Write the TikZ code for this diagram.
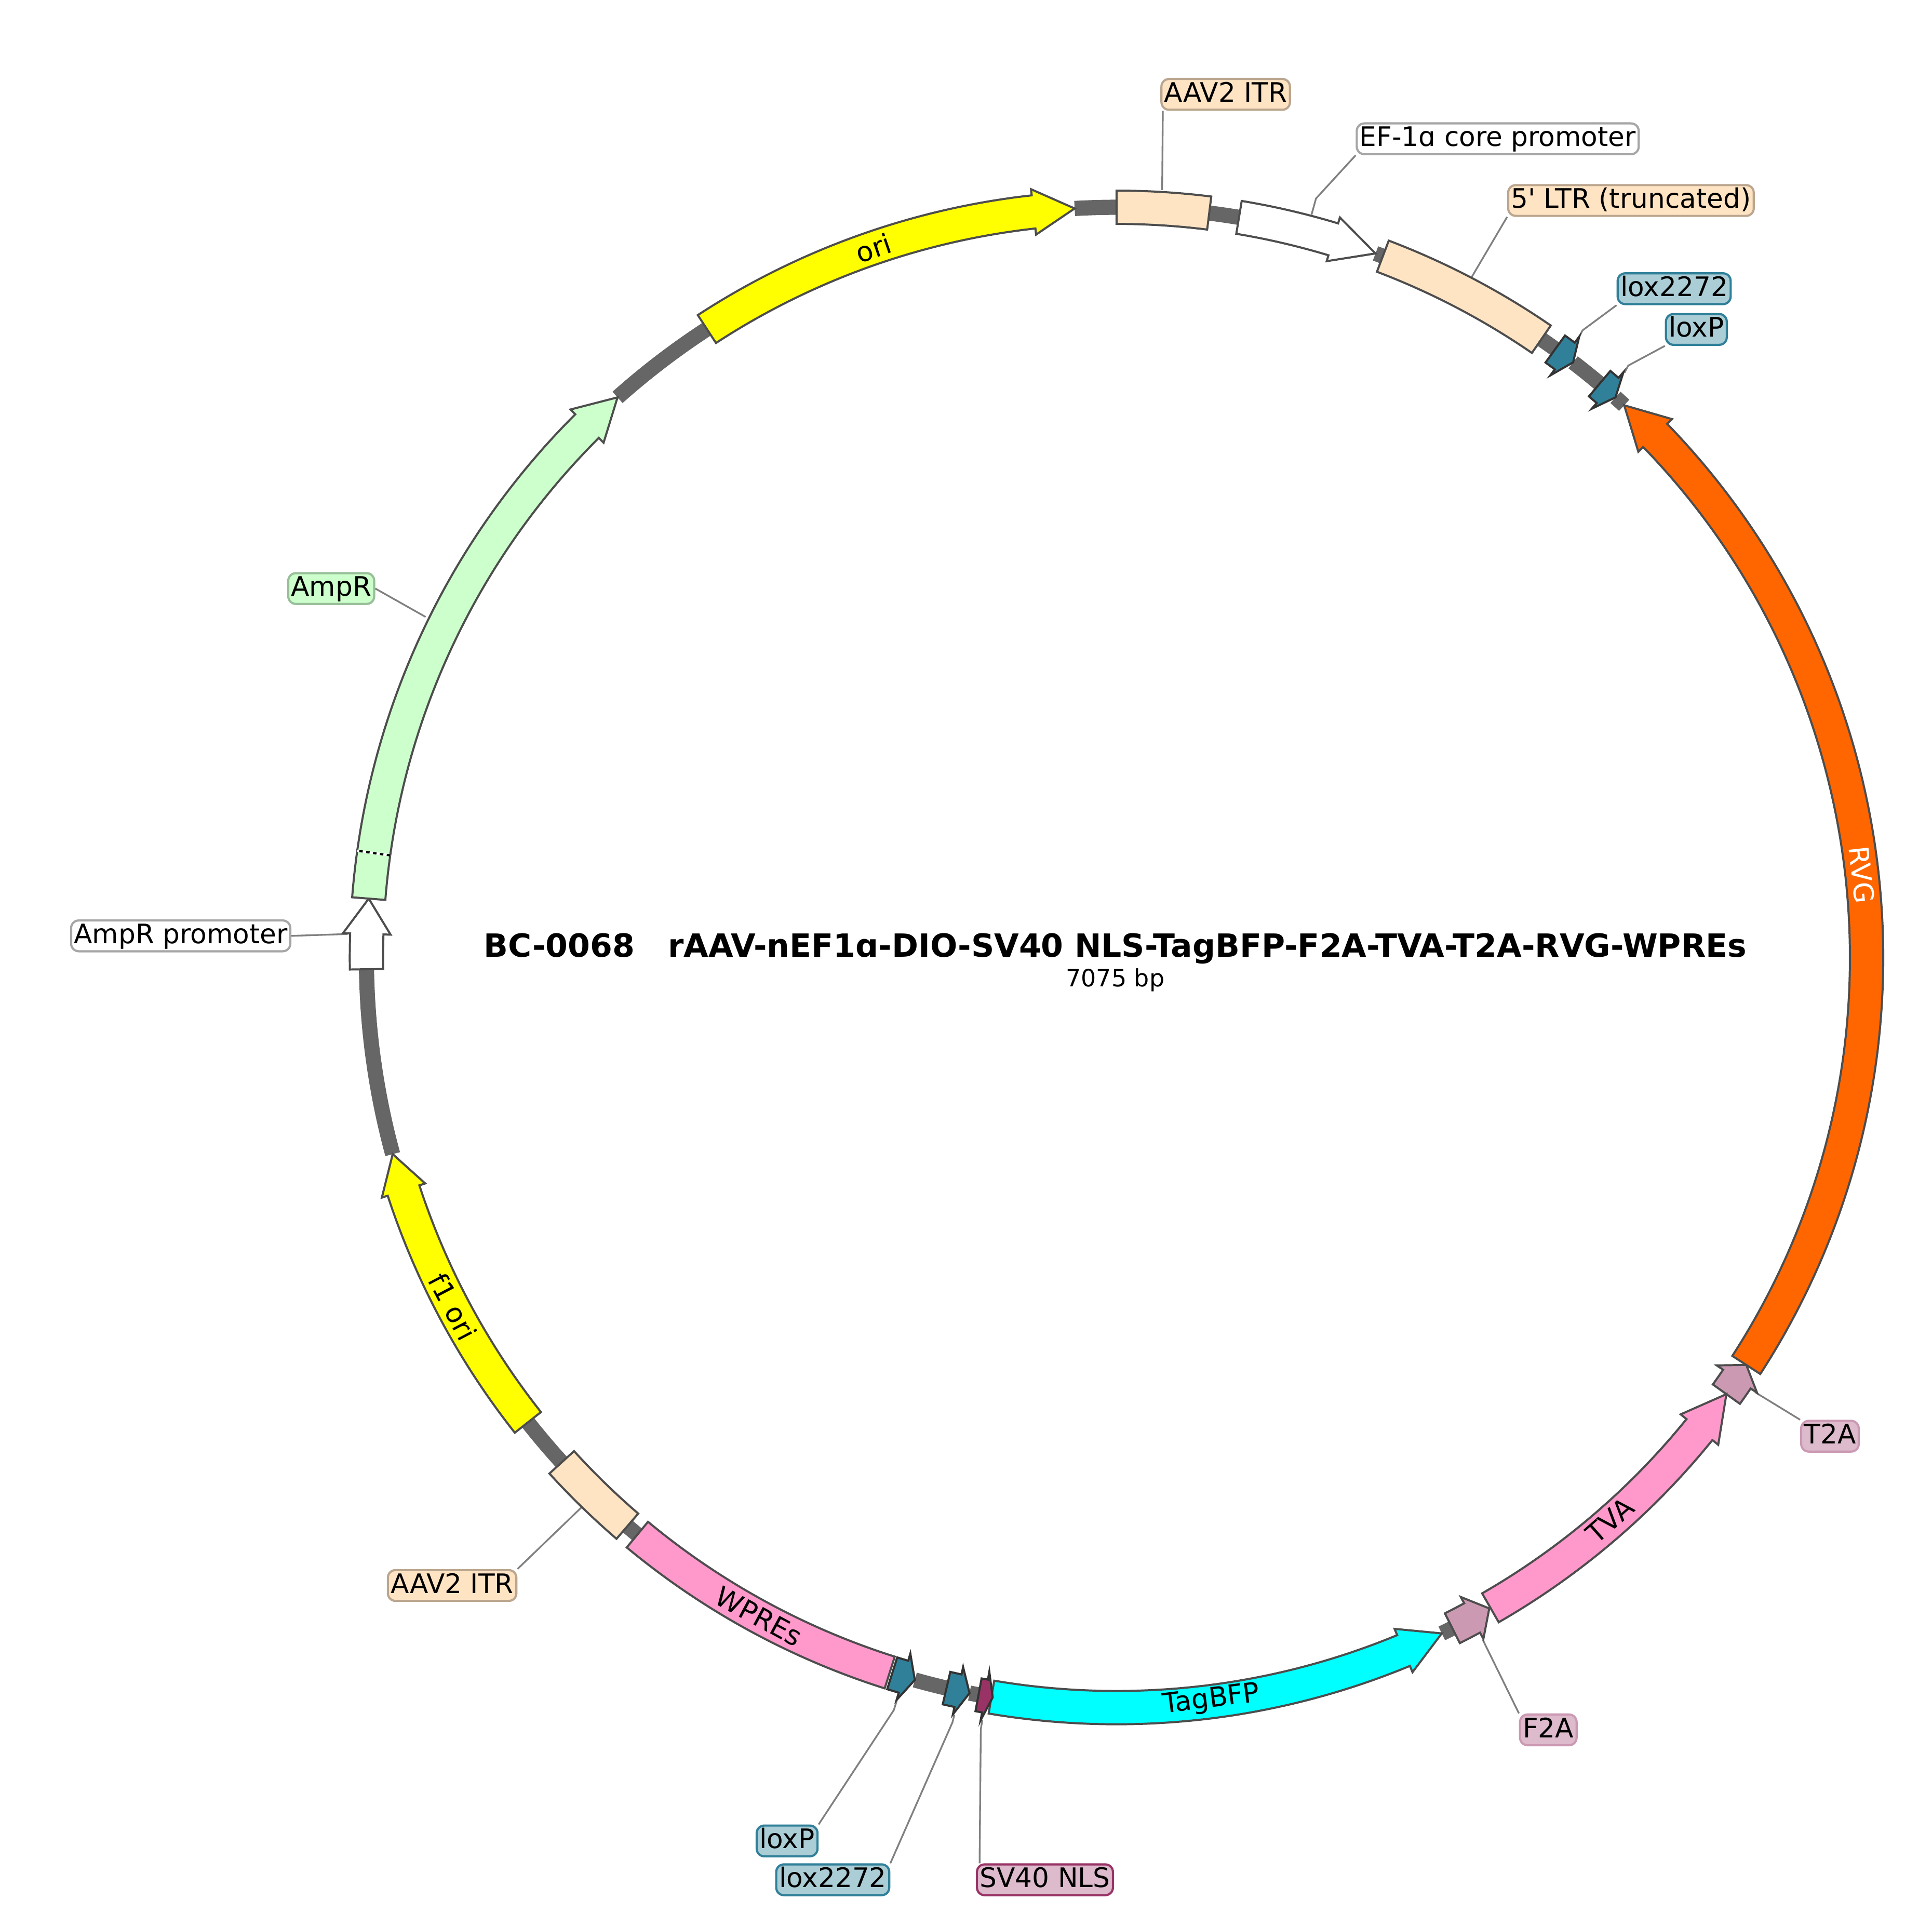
\documentclass[tikz,border=0pt]{standalone}
\usepackage{fontspec}
\setmainfont{DejaVu Sans}
\definecolor{ringgray}{HTML}{666666}
\definecolor{outl}{HTML}{4D4D4D}
\definecolor{leadgray}{HTML}{808080}
\definecolor{itrfill}{HTML}{FFE4C4}
\definecolor{itrline}{HTML}{BBA68F}
\definecolor{loxfill}{HTML}{308099}
\definecolor{loxbox}{HTML}{ABCDD6}
\definecolor{nlsfill}{HTML}{993366}
\definecolor{nlsbox}{HTML}{DDBBCC}
\definecolor{p2afill}{HTML}{CC99B3}
\definecolor{ampfill}{HTML}{CCFFCC}
\definecolor{ampline}{HTML}{99BF99}
\definecolor{pinkfill}{HTML}{FF99CC}
\definecolor{rvgfill}{HTML}{FF6600}
\definecolor{orifill}{HTML}{FFFF00}
\definecolor{bfpfill}{HTML}{00FFFF}
\definecolor{whiteline}{HTML}{A6A6A6}
\tikzset{
  feat/.style={line width=.95pt,draw=outl},
  lblbox/.style 2 args={draw=#1,fill=#2,line width=1pt,rounded corners=3.5pt,
    font=\fontsize{12.4}{14}\selectfont,text=black,inner xsep=1.3pt,inner ysep=0pt,
    minimum height=14.2pt,text height=9.5pt,text depth=2.5pt},
  leader/.style={draw=leadgray,line width=.8pt},
  arctxt/.style={font=\fontsize{12.6}{14}\selectfont,inner sep=0pt},
}
% one arc with a head: fill, line, start, head base, tip, head half width
\newcommand{\featarrow}[6]{
  \draw[feat,fill=#1,draw=#2] (#3:621.5) arc[start angle=#3,end angle=#4,radius=621.5]
    -- (#4:608+#6) -- (#5:608) -- (#4:608-#6) -- (#4:594.5)
    arc[start angle=#4,end angle=#3,radius=594.5] -- cycle;
}
% one arc with no head: fill, start, end
\newcommand{\featbox}[3]{
  \draw[feat,fill=#1] (#2:621.5) arc[start angle=#2,end angle=#3,radius=621.5]
    -- (#3:594.5) arc[start angle=#3,end angle=#2,radius=594.5] -- cycle;
}
\begin{document}
\begin{tikzpicture}[x=0.02cm,y=0.02cm]
\useasboundingbox (-905,776) rectangle (661,-774.4);

% backbone, only between the features
\foreach \from/\to in {93.2/90,82.9/80.6,69.8/69.2,55.5/54.2,52.5/49.9,48.3/47.4,
    -64.3/-63.4,-100.6/-101.3,-103.1/-105.6,-130.7/-129.7,-137.7/-141.7,
    -164.8/-179.1,131.7/123.1}
  \draw[ringgray,line width=7pt] (\from:608) arc[start angle=\from,end angle=\to,radius=608];

% where the leaders end
\coordinate (endITRa) at (37,622);
\coordinate (kinkEF) at (161.7,615.1);
\coordinate (endEF) at (158.1,602.1);
\coordinate (endLTR) at (288,551.6);
\coordinate (kinkLoxA) at (377.7,508.2);
\coordinate (endLoxA) at (375.3,503.3);
\coordinate (kinkLoxPa) at (414.8,479.7);
\coordinate (endLoxPa) at (411.8,474);
\coordinate (endAmp) at (-560,276);
\coordinate (endAmpP) at (-623.3,19);
\coordinate (endITRb) at (-434,-446);
\coordinate (kinkLoxPb) at (-180.5,-610);
\coordinate (endLoxPb) at (-178,-602);
\coordinate (kinkLoxB) at (-133,-620);
\coordinate (endLoxB) at (-131.4,-613.7);
\coordinate (kinkNLS) at (-110,-625.6);
\coordinate (endNLS) at (-108.8,-618);
\coordinate (endF2A) at (296.8,-552.8);
\coordinate (endT2A) at (518.2,-352.7);

% labels
\node[lblbox={itrline}{itrfill}] (lblITRa) at (88.5,699.5) {AAV2 ITR};
\node[lblbox={whiteline}{white}] (lblEF) at (309,663.5) {EF-1ɑ core promoter};
\node[lblbox={itrline}{itrfill}] (lblLTR) at (417,613.5) {5\textquotesingle{} LTR (truncated)};
\node[lblbox={loxfill}{loxbox}] (lblLoxA) at (452,542) {lox2272};
\node[lblbox={loxfill}{loxbox}] (lblLoxPa) at (470,509) {loxP};
\node[lblbox={ampline}{ampfill}] (lblAmp) at (-636.5,299) {AmpR};
\node[lblbox={whiteline}{white}] (lblAmpP) at (-758.5,17.5) {AmpR promoter};
\node[lblbox={itrline}{itrfill}] (lblITRb) at (-538.5,-509) {AAV2 ITR};
\node[lblbox={loxfill}{loxbox}] (lblLoxPb) at (-267,-716) {loxP};
\node[lblbox={loxfill}{loxbox}] (lblLoxB) at (-230,-747.5) {lox2272};
\node[lblbox={nlsfill}{nlsbox}] (lblNLS) at (-58,-747.5) {SV40 NLS};
\node[lblbox={p2afill}{nlsbox}] (lblF2A) at (350,-626) {F2A};
\node[lblbox={p2afill}{nlsbox}] (lblT2A) at (578.3,-388) {T2A};

% leaders
\draw[leader] (lblITRa.south west) ++(2,0) -- (endITRa);
\draw[leader] (lblEF.south west) -- (kinkEF) -- (endEF);
\draw[leader] (lblLTR.south west) -- (endLTR);
\draw[leader] (lblLoxA.south west) -- (kinkLoxA) -- (endLoxA);
\draw[leader] (lblLoxPa.south west) -- (kinkLoxPa) -- (endLoxPa);
\draw[leader] (lblAmp.east) -- (endAmp);
\draw[leader] (lblAmpP.east) -- (endAmpP);
\draw[leader] (lblITRb.north east) -- (endITRb);
\draw[leader] (lblLoxPb.north east) -- (kinkLoxPb) -- (endLoxPb);
\draw[leader] (lblLoxB.north east) -- (kinkLoxB) -- (endLoxB);
\draw[leader] (lblNLS.north west) ++(3,0) -- (kinkNLS) -- (endNLS);
\draw[leader] (lblF2A.north west) -- (endF2A);
\draw[leader] (lblT2A.north west) -- (endT2A);

% features, clockwise from the top
\featbox{itrfill}{90}{82.9}
\featarrow{white}{outl}{80.6}{73.2}{69.8}{18.5}
\featbox{itrfill}{69.2}{55.5}
\featarrow{loxfill}{black!80}{54.2}{53.3}{52.5}{19.6}
\featarrow{loxfill}{black!80}{49.9}{49.1}{48.3}{19.6}
\featarrow{rvgfill}{outl}{-32.9}{44.1}{47.4}{19}
\featarrow{p2afill}{outl}{-35.6}{-34.2}{-32.9}{19.8}
\featarrow{pinkfill}{outl}{-60.1}{-39}{-35.6}{19.6}
\featarrow{p2afill}{outl}{-63.4}{-61.7}{-60.2}{19.3}
\featarrow{bfpfill}{outl}{-99.6}{-67.5}{-64.3}{19}
\featarrow{nlsfill}{black!80}{-100.6}{-100.1}{-99.5}{20}
\featarrow{loxfill}{black!80}{-103.1}{-102.2}{-101.3}{19.6}
\featarrow{loxfill}{black!80}{-107.4}{-106.5}{-105.6}{19.6}
\featbox{pinkfill}{-129.7}{-107.6}
\featbox{itrfill}{-137.7}{-130.7}
\featarrow{orifill}{outl}{-141.7}{-161.9}{-164.8}{18.5}
\featarrow{white}{outl}{180.9}{178.2}{175.5}{19.3}
\featarrow{ampfill}{outl}{175.5}{134.9}{131.7}{19}
\featarrow{orifill}{outl}{123.1}{96.35}{93.2}{18.5}

% break in AmpR
\draw[white,line width=1pt] (172:594.5) -- (172:621.5);
\draw[black,line width=1pt,dash pattern=on 1.6pt off 1.6pt] (172:594.5) -- (172:621.5);

% texts on the arcs
\node[arctxt,rotate=18.9] (txtOri) at (-197,575) {ori};
\node[arctxt,rotate=-83.7,text=white] (txtRVG) at (604,67) {RVG};
\node[arctxt,rotate=41.3] (txtTVA) at (400,-456) {TVA};
\node[arctxt,rotate=7.3] (txtBFP) at (77,-602) {TagBFP};
\node[arctxt,rotate=-28.5] (txtWPRE) at (-290,-534) {WPREs};
\node[arctxt,rotate=-62.3] (txtF1) at (-538,-283) {f1 ori};

% centre
\node[font=\bfseries\fontsize{14.75}{17}\selectfont,inner sep=0pt] (title) at (-1,7) {BC-0068\ \ \ rAAV-nEF1ɑ-DIO-SV40 NLS-TagBFP-F2A-TVA-T2A-RVG-WPREs};
\node[font=\fontsize{11}{13}\selectfont,inner sep=0pt] (size) at (-1,-18.5) {7075 bp};
\end{tikzpicture}
\end{document}
